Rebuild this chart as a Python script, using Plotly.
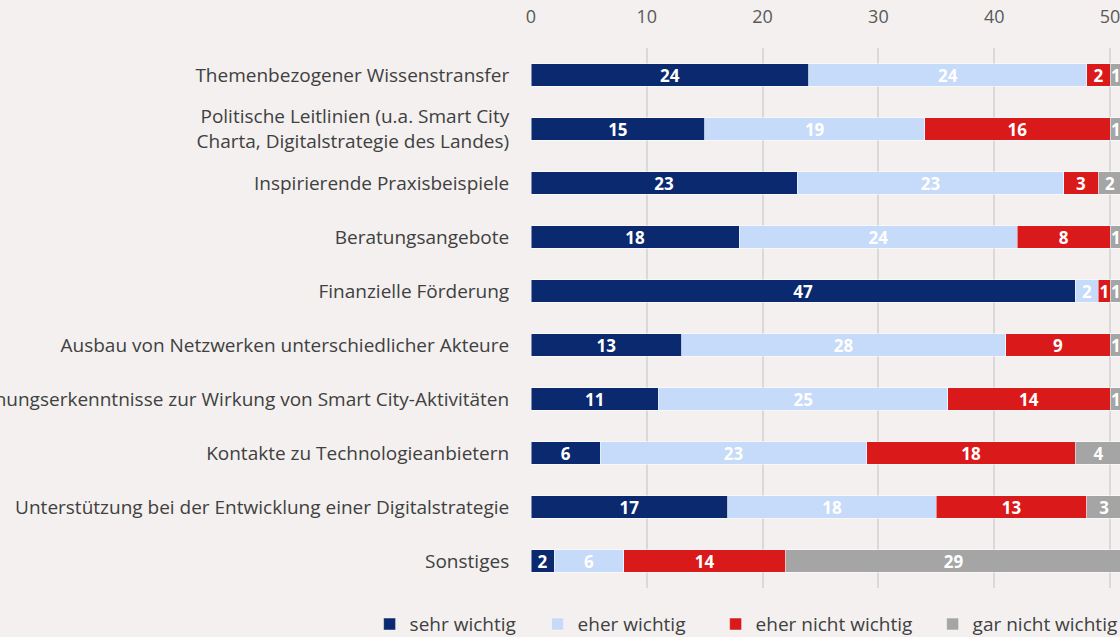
import plotly.graph_objects as go

categories = [
    "Themenbezogener Wissenstransfer",
    "Politische Leitlinien (u.a. Smart City<br>Charta, Digitalstrategie des Landes)",
    "Inspirierende Praxisbeispiele",
    "Beratungsangebote",
    "Finanzielle Förderung",
    "Ausbau von Netzwerken unterschiedlicher Akteure",
    "Forschungserkenntnisse zur Wirkung von Smart City-Aktivitäten",
    "Kontakte zu Technologieanbietern",
    "Unterstützung bei der Entwicklung einer Digitalstrategie",
    "Sonstiges",
]
sehr_wichtig = [24, 15, 23, 18, 47, 13, 11, 6, 17, 2]
eher_wichtig = [24, 19, 23, 24, 2, 28, 25, 23, 18, 6]
eher_nicht_wichtig = [2, 16, 3, 8, 1, 9, 14, 18, 13, 14]
gar_nicht_wichtig = [1, 1, 2, 1, 1, 1, 1, 4, 3, 29]
x_ticks = [0, 10, 20, 30, 40, 50]

series = [
    ("sehr wichtig", sehr_wichtig, "#0B296E", 123),
    ("eher wichtig", eher_wichtig, "#C6DAF9", 133),
    ("eher nicht wichtig", eher_nicht_wichtig, "#DA1A1A", 172),
    ("gar nicht wichtig", gar_nicht_wichtig, "#A5A5A5", 150),
]

FONT = "Open Sans"
fig = go.Figure()
for name, vals, col, lw in series:
    fig.add_trace(go.Bar(
        y=categories, x=vals, name=name, orientation="h",
        marker=dict(color=col, line=dict(color="rgba(255,255,255,0.6)", width=0.8)),
        text=[str(v) for v in vals], textposition="inside", textangle=0,
        insidetextanchor="middle",
        textfont=dict(family=FONT, size=17, color="white", weight="bold"),
        cliponaxis=True, legendwidth=lw,
    ))

fig.update_layout(
    width=1120, height=637,
    barmode="stack", bargap=0.585,
    paper_bgcolor="#F3F0EF", plot_bgcolor="#F3F0EF",
    margin=dict(l=531, r=0, t=48, b=49, autoexpand=False),
    uniformtext=dict(mode="show", minsize=17),
    showlegend=True,
    legend=dict(orientation="h", x=-0.274, xanchor="left", y=-0.067, yanchor="middle",
                font=dict(family=FONT, size=19, color="#404040"),
                bgcolor="rgba(0,0,0,0)", traceorder="normal"),
    xaxis=dict(side="top", range=[0, 50.86], tickvals=x_ticks, showgrid=True,
               gridcolor="#D9D9D9", gridwidth=2, zeroline=False, showline=False,
               tickfont=dict(family=FONT, size=18, color="#595959"),
               ticks="outside", ticklen=17, tickcolor="rgba(0,0,0,0)",
               ticklabeloverflow="allow", automargin=False, fixedrange=True),
    yaxis=dict(autorange="reversed", showgrid=False, zeroline=False, showline=False,
               ticks="outside", ticklen=17, tickcolor="rgba(0,0,0,0)",
               tickfont=dict(family=FONT, size=19, color="#404040"),
               automargin=False, fixedrange=True),
)

fig.write_html("out.html", config={"displayModeBar": False},
               post_script="document.body.style.margin='0';document.body.style.overflow='hidden';")
